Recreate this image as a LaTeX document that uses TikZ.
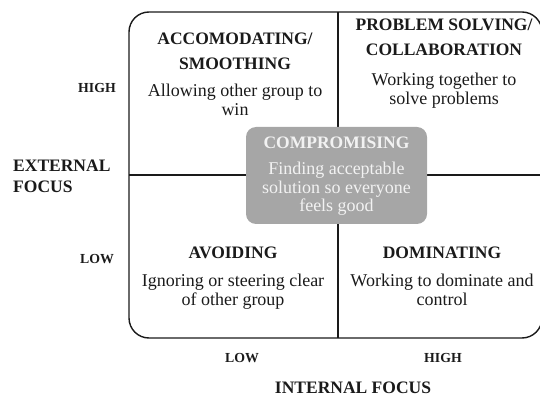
\documentclass[tikz,border=0pt]{standalone}
\usepackage{fontspec}
\setmainfont{Liberation Serif}
\definecolor{ink}{HTML}{1A1A1A}
\definecolor{compfill}{HTML}{A6A6A6}
\definecolor{comptext}{HTML}{F2F2F2}
\tikzset{
  frame/.style={draw=ink, line width=1.4pt},
  divider/.style={draw=ink, line width=1.4pt},
  head/.style={inner sep=0pt, anchor=north, align=center, text=ink,
    font=\fontsize{17.5}{25}\selectfont\bfseries},
  body/.style={inner sep=0pt, anchor=north, align=center, text=ink,
    font=\fontsize{18}{18.5}\selectfont},
  axislab/.style={inner sep=0pt, anchor=north, align=left, text=ink,
    font=\fontsize{17.5}{21}\selectfont\bfseries},
  small/.style={inner sep=0pt, anchor=north, text=ink,
    font=\fontsize{13.8}{16}\selectfont\bfseries},
  compbox/.style={fill=compfill, rounded corners=10pt, draw=none},
  comphead/.style={head, text=comptext},
  compbody/.style={body, text=comptext},
}
\begin{document}
\begin{tikzpicture}[x=1pt,y=-1pt]
\useasboundingbox (0,0) rectangle (540,403);
% frame and dividers
\coordinate (tl) at (129,12);
\coordinate (br) at (542,338);
\coordinate (vtop) at (338,12);
\coordinate (vbot) at (338,338);
\coordinate (hl) at (129,175);
\coordinate (hr) at (542,175);
\draw[frame, rounded corners=20pt] (tl) rectangle (br);
\draw[divider] (vtop) -- (vbot);
\draw[divider] (hl) -- (hr);
% compromise box
\coordinate (ctl) at (246,127);
\coordinate (cbr) at (427,224);
\fill[compbox] (ctl) rectangle (cbr);
\node[comphead] (comph) at (336.5,137) {COMPROMISING};
\node[compbody] (compb) at (336.5,162) {Finding acceptable\\solution so everyone\\feels good};
% quadrants
\node[head] (acch) at (235,33) {ACCOMODATING/\\SMOOTHING};
\node[body] (accb) at (235,84) {Allowing other group to\\win};
\node[head] (probh) at (444,19) {PROBLEM SOLVING/\\COLLABORATION};
\node[body] (probb) at (444,73) {Working together to\\solve problems};
\node[head] (avoh) at (233,247) {AVOIDING};
\node[body] (avob) at (233,274) {Ignoring or steering clear\\of other group};
\node[head] (domh) at (442,247) {DOMINATING};
\node[body] (domb) at (442,274) {Working to dominate and\\control};
% axis labels
\node[small] (yhigh) at (97,83) {HIGH};
\node[small] (ylow) at (97,254) {LOW};
\node[axislab, anchor=north west] (ext) at (13,160) {EXTERNAL\\FOCUS};
\node[small] (xlow) at (242,353) {LOW};
\node[small] (xhigh) at (443,353) {HIGH};
\node[head] (intf) at (353,382) {INTERNAL FOCUS};
\end{tikzpicture}
\end{document}
